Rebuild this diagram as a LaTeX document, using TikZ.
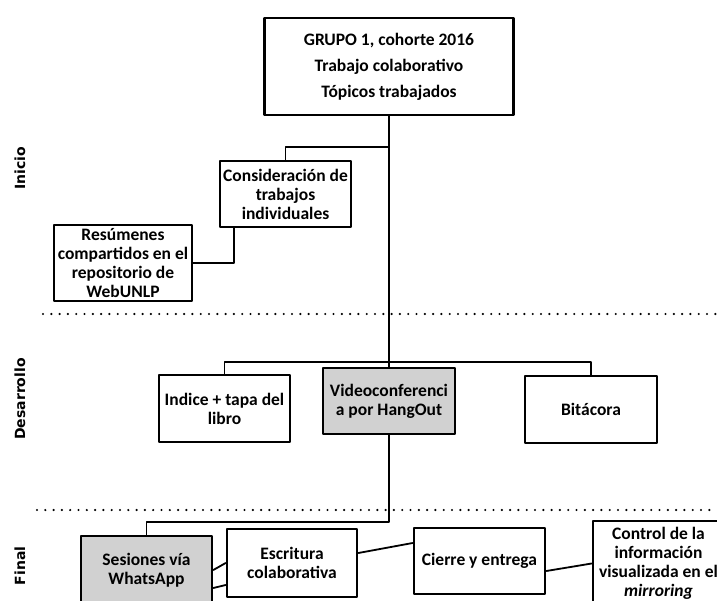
\documentclass[tikz,border=0pt]{standalone}
\usepackage{fontspec}
\setmainfont{Carlito}
\newfontfamily\phasefont{DejaVu Sans}
\usetikzlibrary{positioning}

\begin{document}
\begin{tikzpicture}[x=1pt,y=-1pt,line cap=round,line join=round,
    box/.style={draw,line width=2.7pt,fill=white,inner sep=0pt,align=center,
      minimum width=131pt,minimum height=67pt,
      font=\fontsize{17.5}{19}\selectfont\bfseries},
    shaded/.style={box,fill=black!18},
    link/.style={line width=1.8pt},
    phase/.style={rotate=90,font=\fontsize{14}{16}\selectfont\phasefont\bfseries},
    sep/.style={line width=2.4pt,black,line cap=round,dash pattern=on 0pt off 8.3pt}]
  \clip (0,0) rectangle (717,601);
  \fill[white] (0,0) rectangle (717,601);
  \coordinate (bi) at (389,147);
  \coordinate (bd) at (389,362);
  \coordinate (bf) at (389,522);
  \node[box,minimum width=249pt,minimum height=97pt,
    font=\fontsize{17.5}{26}\selectfont\bfseries] (grupo) at (389,66.5)
    {GRUPO 1, cohorte 2016\\Trabajo colaborativo\\Tópicos trabajados};
  \node[box,minimum height=66pt] (consid) at (285.5,194)
    {Consideración de\\trabajos\\individuales};
  \node[box,minimum width=138pt,minimum height=76pt] (resum) at (123,263)
    {Resúmenes\\compartidos en el\\repositorio de\\WebUNLP};
  \node[box] (indice) at (224.5,408.5) {Indice + tapa del\\libro};
  \node[shaded,minimum width=132pt,minimum height=66pt] (video) at (389,401)
    {Videoconferenci\\a por HangOut};
  \node[box,minimum width=132pt] (bitacora) at (591,409.5) {Bitácora};
  \node[shaded,minimum height=68pt] (sesiones) at (146.5,570)
    {Sesiones vía\\WhatsApp};
  \node[box,minimum width=130pt,minimum height=68pt] (escritura) at (292,563)
    {Escritura\\colaborativa};
  \node[box,minimum height=66pt] (cierre) at (479.5,561) {Cierre y entrega};
  \node[box,minimum height=85pt] (control) at (658.5,563.5)
    {Control de la\\información\\visualizada en el\\\textit{mirroring}};
  \draw[sep] (43,314) -- (717,314);
  \draw[sep] (37,510) -- (717,510);
  \node[phase] (inicio) at (20,168) {Inicio};
  \node[phase] (desarrollo) at (20,399) {Desarrollo};
  \node[phase] (final) at (20,566) {Final};
  \draw[link] (grupo.south) -- (video.north);
  \draw[link] (bi) -| (consid.north);
  \draw[link] ([xshift=-51.5pt]consid.south) |- (resum.east);
  \draw[link] (indice.north) |- (bd) -| (bitacora.north);
  \draw[link] (video.south) -- (bf) -| (sesiones.north);
  \draw[link] (sesiones.east) -- (escritura.west);
  \draw[link] ([yshift=-18pt]sesiones.east) -- ([yshift=-22pt]escritura.west);
  \draw[link] ([yshift=10pt]escritura.east) -- ([yshift=18pt]cierre.west);
  \draw[link] ([yshift=-10pt]cierre.east) -- (control.west);
\end{tikzpicture}
\end{document}
